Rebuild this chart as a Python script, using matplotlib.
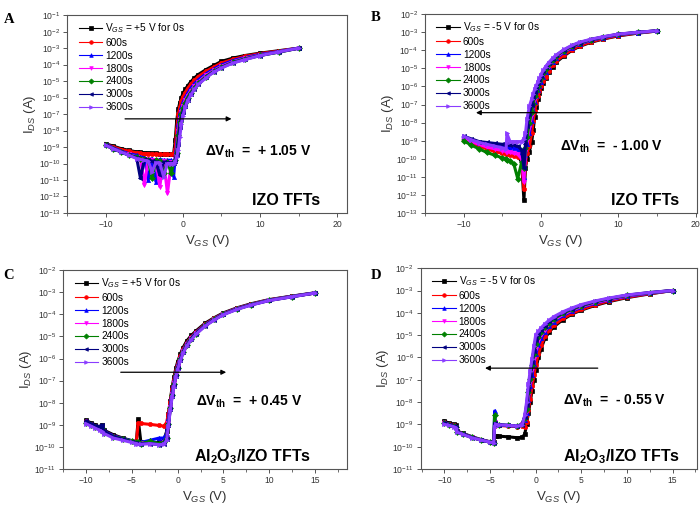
import matplotlib
matplotlib.use('Agg')
import matplotlib.pyplot as plt
from matplotlib.lines import Line2D
from matplotlib.ticker import LogLocator, MultipleLocator, NullLocator
import numpy as np

plt.rcParams['font.family'] = ['Liberation Sans', 'DejaVu Sans']
plt.rcParams['mathtext.fontset'] = 'custom'
plt.rcParams['mathtext.rm'] = 'Liberation Sans'
plt.rcParams['mathtext.it'] = 'Liberation Sans:italic'
plt.rcParams['mathtext.bf'] = 'Liberation Sans:bold'

# ---- data: gate voltage grids and log10(I_DS) for each stress time ----
labels = ['0s', '600s', '1200s', '1800s', '2400s', '3000s', '3600s']
colors = ['#000000', '#FF0000', '#0000FF', '#FF00FF', '#008000', '#000080', '#8A3CFF']
markers = ['s', 'o', '^', 'v', 'D', '<', '>']

# A: IZO, +5 V stress
vA = [-10, -9, -8, -7, -6, -5.5, -5, -4.5, -4, -3.5, -3, -2.5, -2, -1.5, -1.2, -1, -0.8, -0.6,
      -0.4, -0.2, 0, 0.3, 0.6, 1, 1.5, 2, 3, 4, 5, 6.5, 8, 10, 12.5, 15]
A_0s = [-8.8, -8.95, -9.1, -9.2, -9.3, -9.32, -9.35, -9.36, -9.38, -9.38, -9.4, -9.4, -9.42, -9.42,
        -9.4, -8.6, -7.4, -6.7, -6.3, -6.0, -5.75, -5.5, -5.3, -5.05, -4.8, -4.6, -4.3, -4.05,
        -3.8, -3.6, -3.45, -3.3, -3.15, -3.0]
A_600s = [-8.85, -9.0, -9.15, -9.25, -9.35, -9.38, -9.4, -9.4, -9.42, -9.42, -9.45, -9.45, -9.45,
          -9.45, -9.45, -9.1, -7.9, -7.0, -6.55, -6.2, -5.95, -5.7, -5.45, -5.2, -4.95, -4.72,
          -4.4, -4.15, -3.9, -3.68, -3.5, -3.33, -3.17, -3.0]
A_1200s = [-8.85, -9.05, -9.25, -9.4, -9.5, -9.6, -9.65, -11.0, -9.7, -11.1, -9.75, -9.8, -9.8,
           -9.8, -10.8, -9.6, -8.8, -7.6, -7.0, -6.6, -6.3, -6.0, -5.75, -5.45, -5.15, -4.92,
           -4.55, -4.27, -4.02, -3.75, -3.57, -3.38, -3.2, -3.0]
A_1800s = [-8.9, -9.1, -9.3, -9.45, -9.6, -9.7, -11.3, -9.75, -9.8, -9.8, -11.4, -9.85, -11.8,
           -9.9, -9.9, -9.75, -9.2, -8.0, -7.3, -6.85, -6.5, -6.15, -5.9, -5.6, -5.3, -5.05,
           -4.65, -4.35, -4.1, -3.82, -3.62, -3.42, -3.22, -3.0]
A_2400s = [-8.9, -9.1, -9.3, -9.5, -9.6, -9.7, -9.75, -9.8, -10.9, -9.8, -9.85, -10.6, -9.9,
           -10.6, -9.9, -9.8, -9.35, -8.3, -7.5, -7.0, -6.65, -6.3, -6.0, -5.7, -5.4, -5.12,
           -4.72, -4.4, -4.15, -3.86, -3.65, -3.44, -3.24, -3.0]
A_3000s = [-8.9, -9.1, -9.3, -9.5, -9.65, -10.9, -9.75, -9.8, -9.85, -9.9, -10.7, -9.9, -9.95,
           -9.95, -9.95, -9.85, -9.5, -8.8, -7.8, -7.3, -6.9, -6.5, -6.15, -5.8, -5.48, -5.18,
           -4.77, -4.43, -4.18, -3.88, -3.68, -3.45, -3.22, -3.0]
A_3600s = [-8.9, -9.1, -9.3, -9.5, -9.7, -9.75, -9.8, -9.85, -10.5, -9.95, -9.95, -10.8, -10.0,
           -10.0, -10.0, -9.9, -9.6, -9.2, -8.4, -7.6, -7.1, -6.6, -6.2, -5.85, -5.5, -5.2,
           -4.8, -4.45, -4.2, -3.9, -3.7, -3.45, -3.22, -3.0]

# B: IZO, -5 V stress
vB = [-10, -9, -8, -7, -6, -5, -4.5, -4.4, -4, -3.5, -3, -2.5, -2.2, -2, -1.8, -1.5, -1.2, -1,
      -0.8, -0.6, -0.4, -0.2, 0, 0.3, 0.6, 1, 1.5, 2, 3, 4, 5, 6.5, 8, 10, 12.5, 15]
B_0s = [-8.9, -9.1, -9.25, -9.4, -9.5, -9.6, -9.65, -9.65, -9.7, -9.75, -9.8, -10.2, -12.3,
        -10.5, -10.0, -9.6, -9.1, -8.4, -7.7, -7.15, -6.7, -6.35, -6.1, -5.8, -5.55, -5.2, -4.9,
        -4.65, -4.3, -4.0, -3.78, -3.55, -3.38, -3.2, -3.05, -2.93]
B_600s = [-8.95, -9.15, -9.3, -9.45, -9.6, -9.7, -9.75, -9.75, -9.8, -9.85, -9.9, -10.0, -11.7,
          -10.2, -9.7, -9.3, -8.6, -7.9, -7.35, -6.9, -6.55, -6.25, -6.0, -5.7, -5.45, -5.12,
          -4.82, -4.58, -4.25, -3.96, -3.75, -3.52, -3.36, -3.18, -3.04, -2.93]
B_1200s = [-8.8, -9.0, -9.15, -9.25, -9.3, -9.35, -9.35, -9.35, -9.4, -9.4, -9.45, -9.8, -11.0,
           -9.8, -9.2, -8.6, -7.9, -7.3, -6.85, -6.5, -6.2, -5.95, -5.75, -5.45, -5.2, -4.92,
           -4.65, -4.42, -4.1, -3.85, -3.65, -3.45, -3.3, -3.14, -3.02, -2.92]
B_1800s = [-8.85, -9.05, -9.2, -9.35, -9.45, -9.55, -9.6, -9.6, -9.65, -9.7, -9.75, -10.0, -11.3,
           -9.6, -9.0, -8.3, -7.6, -7.1, -6.7, -6.35, -6.05, -5.82, -5.62, -5.35, -5.1, -4.84,
           -4.58, -4.36, -4.05, -3.81, -3.62, -3.42, -3.28, -3.13, -3.01, -2.92]
B_2400s = [-9.0, -9.25, -9.45, -9.65, -9.8, -9.95, -10.0, -10.05, -10.1, -10.3, -11.1, -10.2,
           -10.5, -9.4, -8.8, -8.0, -7.4, -6.95, -6.55, -6.25, -5.95, -5.72, -5.52, -5.27, -5.02,
           -4.77, -4.52, -4.31, -4.01, -3.78, -3.6, -3.41, -3.27, -3.12, -3.01, -2.92]
B_3000s = [-8.75, -8.9, -9.05, -9.1, -9.15, -9.2, -9.2, -9.2, -9.25, -9.25, -9.3, -9.5, -10.5,
           -9.2, -8.2, -7.5, -7.0, -6.6, -6.3, -6.05, -5.82, -5.6, -5.42, -5.17, -4.95, -4.72,
           -4.48, -4.27, -3.97, -3.75, -3.57, -3.4, -3.26, -3.11, -3.0, -2.92]
B_3600s = [-8.75, -8.95, -9.1, -9.2, -9.3, -9.4, -9.45, -8.6, -9.05, -9.05, -9.05, -9.05, -8.9,
           -8.6, -7.8, -7.1, -6.7, -6.4, -6.15, -5.95, -5.75, -5.55, -5.35, -5.1, -4.9, -4.68,
           -4.45, -4.25, -3.95, -3.72, -3.55, -3.38, -3.25, -3.1, -3.0, -2.92]

# C: Al2O3/IZO, +5 V stress
vC = [-10, -9.5, -9, -8.5, -8.3, -8, -7, -6, -5, -4.5, -4.3, -4, -3, -2, -1.5, -1.2, -1, -0.8,
      -0.6, -0.4, -0.2, 0, 0.3, 0.6, 1, 1.5, 2, 3, 4, 5, 6.5, 8, 10, 12.5, 15]
C_0s = [-8.8, -8.9, -9.0, -9.1, -9.0, -9.25, -9.45, -9.6, -9.72, -9.78, -8.75, -9.8, -9.82, -9.8,
        -9.7, -9.3, -8.5, -7.9, -7.3, -6.85, -6.45, -6.15, -5.8, -5.5, -5.2, -4.95, -4.75, -4.4,
        -4.15, -3.93, -3.7, -3.52, -3.33, -3.17, -3.02]
C_600s = [-8.85, -8.95, -9.05, -9.15, -9.1, -9.3, -9.5, -9.62, -9.75, -9.8, -8.92, -8.94, -8.98,
          -9.03, -9.06, -8.9, -8.5, -7.95, -7.4, -6.95, -6.55, -6.25, -5.9, -5.58, -5.28, -5.02,
          -4.8, -4.45, -4.18, -3.96, -3.72, -3.54, -3.34, -3.18, -3.03]
C_1200s = [-8.85, -8.95, -9.05, -9.15, -9.1, -9.3, -9.5, -9.62, -9.72, -9.78, -9.8, -9.8, -9.7,
           -9.6, -9.6, -9.4, -8.7, -8.1, -7.5, -7.05, -6.65, -6.32, -5.95, -5.63, -5.32, -5.05,
           -4.83, -4.47, -4.2, -3.97, -3.73, -3.55, -3.35, -3.18, -3.03]
C_1800s = [-8.9, -9.0, -9.1, -9.2, -9.2, -9.35, -9.55, -9.65, -9.75, -9.8, -9.82, -9.82, -9.85,
           -9.85, -9.8, -9.6, -8.9, -8.2, -7.6, -7.12, -6.72, -6.38, -6.0, -5.67, -5.36, -5.08,
           -4.86, -4.49, -4.22, -3.98, -3.74, -3.56, -3.36, -3.19, -3.03]
C_2400s = [-8.9, -9.0, -9.1, -9.2, -9.15, -9.35, -9.55, -9.62, -9.75, -9.8, -9.8, -9.85, -9.75,
           -9.85, -9.8, -9.6, -8.95, -8.25, -7.65, -7.17, -6.76, -6.42, -6.03, -5.7, -5.38, -5.1,
           -4.87, -4.5, -4.23, -3.99, -3.75, -3.56, -3.36, -3.19, -3.03]
C_3000s = [-8.85, -8.95, -9.05, -9.1, -9.0, -9.3, -9.55, -9.65, -9.78, -9.82, -9.85, -9.85, -9.85,
           -9.9, -9.85, -9.65, -9.0, -8.3, -7.7, -7.22, -6.8, -6.45, -6.06, -5.72, -5.4, -5.12,
           -4.88, -4.51, -4.24, -4.0, -3.76, -3.57, -3.37, -3.2, -3.03]
C_3600s = [-8.95, -9.05, -9.15, -9.25, -9.3, -9.4, -9.6, -9.7, -9.8, -9.85, -9.88, -9.88, -9.85,
           -9.9, -9.88, -9.7, -9.05, -8.35, -7.75, -7.27, -6.85, -6.5, -6.1, -5.76, -5.43, -5.15,
           -4.9, -4.53, -4.25, -4.01, -3.77, -3.58, -3.37, -3.2, -3.03]

# D: Al2O3/IZO, -5 V stress
vD = [-10, -9.5, -9, -8.7, -8.6, -8, -7, -6, -5, -4.6, -4.5, -4.4, -4, -3, -2, -1.5, -1.2, -1,
      -0.8, -0.6, -0.4, -0.2, 0, 0.3, 0.6, 1, 1.5, 2, 3, 4, 5, 6.5, 8, 10, 12.5, 15]
D_0s = [-8.85, -8.95, -9.0, -9.05, -9.3, -9.4, -9.55, -9.68, -9.78, -9.8, -9.5, -9.52, -9.53,
        -9.56, -9.6, -9.58, -9.45, -9.0, -8.5, -8.0, -7.5, -7.0, -6.55, -6.0, -5.6, -5.15, -4.85,
        -4.62, -4.3, -4.05, -3.88, -3.67, -3.5, -3.32, -3.15, -3.0]
D_600s = [-8.9, -9.0, -9.05, -9.1, -9.32, -9.42, -9.57, -9.7, -9.79, -9.81, -9.09, -9.05, -9.05,
          -9.08, -9.1, -9.08, -9.1, -8.9, -8.35, -7.85, -7.3, -6.8, -6.35, -5.85, -5.45, -5.05,
          -4.77, -4.55, -4.25, -4.02, -3.85, -3.64, -3.47, -3.3, -3.14, -3.0]
D_1200s = [-8.9, -9.0, -9.05, -9.1, -9.32, -9.42, -9.57, -9.7, -9.79, -9.81, -8.4, -9.0, -9.02,
           -9.05, -9.08, -9.0, -8.8, -8.5, -7.9, -7.3, -6.8, -6.3, -5.85, -5.45, -5.15, -4.85,
           -4.6, -4.4, -4.12, -3.92, -3.76, -3.57, -3.42, -3.26, -3.12, -3.0]
D_1800s = [-8.95, -9.02, -9.07, -9.12, -9.33, -9.43, -9.58, -9.7, -9.8, -9.82, -8.9, -9.02, -9.03,
           -9.06, -9.08, -9.0, -8.75, -8.4, -7.7, -7.1, -6.55, -6.05, -5.6, -5.25, -5.0, -4.75,
           -4.52, -4.33, -4.07, -3.88, -3.72, -3.54, -3.4, -3.24, -3.11, -3.0]
D_2400s = [-8.95, -9.02, -9.07, -9.12, -9.33, -9.43, -9.58, -9.7, -9.8, -9.82, -8.6, -9.0, -9.02,
           -9.05, -9.07, -9.0, -8.7, -8.3, -7.55, -6.95, -6.35, -5.85, -5.4, -5.1, -4.88, -4.65,
           -4.45, -4.27, -4.02, -3.84, -3.69, -3.51, -3.37, -3.22, -3.1, -3.0]
D_3000s = [-8.95, -9.03, -9.08, -9.13, -9.34, -9.44, -9.59, -9.7, -9.8, -9.82, -8.95, -9.01,
           -9.02, -9.05, -9.07, -9.02, -8.65, -8.15, -7.4, -6.8, -6.2, -5.7, -5.2, -4.95, -4.77,
           -4.57, -4.38, -4.22, -3.98, -3.81, -3.66, -3.49, -3.36, -3.21, -3.09, -3.0]
D_3600s = [-9.0, -9.05, -9.1, -9.15, -9.35, -9.45, -9.6, -9.7, -9.8, -9.82, -9.1, -9.0, -9.02,
           -9.05, -9.07, -9.05, -8.6, -8.0, -7.2, -6.6, -6.05, -5.5, -5.0, -4.82, -4.67, -4.5,
           -4.32, -4.17, -3.95, -3.78, -3.63, -3.47, -3.34, -3.2, -3.09, -3.0]

panels = [
    dict(rect=[0.096, 0.580, 0.400, 0.390], v=vA, ys=[A_0s, A_600s, A_1200s, A_1800s, A_2400s, A_3000s, A_3600s],
         xlim=(-15, 21.3), ylim=(1e-13, 1e-1), xmaj=10, xmin=5, first='+5', letter='A', lpos=(0.006, 0.975),
         arrow=((-7.5, 6.3), -7.29), dv='+ 1.05 V', dvpos=(2.8, -9.27), name='IZO TFTs', npos=(9.0, -12.25)),
    dict(rect=[0.607, 0.580, 0.389, 0.392], v=vB, ys=[B_0s, B_600s, B_1200s, B_1800s, B_2400s, B_3000s, B_3600s],
         xlim=(-15, 20.2), ylim=(1e-13, 1e-2), xmaj=10, xmin=5, first='-5', letter='B', lpos=(0.530, 0.978),
         arrow=((6.5, -8.4), -7.45), dv='- 1.00 V', dvpos=(2.5, -9.32), name='IZO TFTs', npos=(9.0, -12.3)),
    dict(rect=[0.090, 0.075, 0.406, 0.392], v=vC, ys=[C_0s, C_600s, C_1200s, C_1800s, C_2400s, C_3000s, C_3600s],
         xlim=(-12.5, 18.5), ylim=(1e-11, 1e-2), xmaj=5, xmin=2.5, first='+5', letter='C', lpos=(0.005, 0.470),
         arrow=((-6.2, 5.3), -6.62), dv='+ 0.45 V', dvpos=(2.0, -7.95), name=r'Al$_\mathbf{2}$O$_\mathbf{3}$/IZO TFTs', npos=(1.8, -10.43)),
    dict(rect=[0.601, 0.075, 0.395, 0.396], v=vD, ys=[D_0s, D_600s, D_1200s, D_1800s, D_2400s, D_3000s, D_3600s],
         xlim=(-12.6, 17.7), ylim=(1e-11, 1e-2), xmaj=5, xmin=2.5, first='-5', letter='D', lpos=(0.530, 0.470),
         arrow=((6.8, -5.55), -6.48), dv='- 0.55 V', dvpos=(3.0, -7.93), name=r'Al$_\mathbf{2}$O$_\mathbf{3}$/IZO TFTs', npos=(3.0, -10.43)),
]

fig = plt.figure(figsize=(7.0, 5.07), dpi=100)
spine_c = '#555555'
txt_c = '#333333'

for p in panels:
    ax = fig.add_axes(p['rect'])
    for i, y in enumerate(p['ys']):
        ax.plot(p['v'], 10 ** np.array(y), color=colors[i], marker=markers[i], ms=3, lw=2.2,
                mew=0.5, zorder=2 + i)
    ax.set_yscale('log')
    ax.set_xlim(*p['xlim'])
    ax.set_ylim(*p['ylim'])
    ax.yaxis.set_major_locator(LogLocator(base=10, numticks=20))
    ax.yaxis.set_minor_locator(NullLocator())
    ax.xaxis.set_major_locator(MultipleLocator(p['xmaj']))
    ax.xaxis.set_minor_locator(MultipleLocator(p['xmin']))
    ax.tick_params(axis='both', which='major', labelsize=6.2, length=3, width=0.7,
                   color=spine_c, labelcolor=txt_c, pad=2)
    ax.tick_params(axis='x', which='minor', length=2, width=0.6, color=spine_c)
    for s in ax.spines.values():
        s.set_color(spine_c)
        s.set_linewidth(0.8)
    ax.set_xlabel(r'V$_{GS}$ (V)', fontsize=9.5, color=txt_c, labelpad=3)
    ax.set_ylabel(r'I$_{DS}$ (A)', fontsize=9.5, color=txt_c, labelpad=0.5)

    handles = [Line2D([], [], color=colors[i], marker=markers[i], ms=2.6, lw=0.8, mew=0.5)
               for i in range(len(labels))]
    names = [r'V$_{GS}$ = %s V for 0s' % p['first']] + labels[1:]
    ax.legend(handles, names, loc='upper left', frameon=False, fontsize=7.3, handlelength=2.3,
              handletextpad=0.3, labelspacing=0.28, borderaxespad=0.2, bbox_to_anchor=(0.02, 1.0))

    (xa, xb), ya = p['arrow']
    ax.annotate('', xy=(xb, 10 ** ya), xytext=(xa, 10 ** ya),
                arrowprops=dict(arrowstyle='-|>', color='black', lw=0.9, mutation_scale=7,
                                shrinkA=0, shrinkB=0), zorder=20)
    ax.text(p['dvpos'][0], 10 ** p['dvpos'][1], r'$\mathbf{\Delta V_{th}}$  =  ' + p['dv'],
            fontsize=10, fontweight='bold', ha='left', va='center', zorder=20)
    ax.text(p['npos'][0], 10 ** p['npos'][1], p['name'], fontsize=11.5, fontweight='bold',
            ha='left', va='center', zorder=20)
    fig.text(p['lpos'][0], p['lpos'][1], p['letter'], fontsize=10.5, fontweight='bold',
             family='Liberation Serif', ha='left', va='top')

fig.savefig('out.png', dpi=100)
